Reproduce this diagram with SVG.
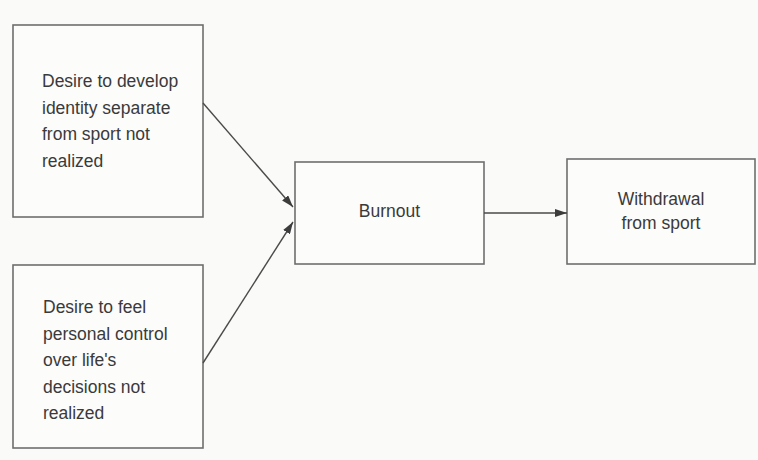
<svg xmlns="http://www.w3.org/2000/svg" width="758" height="460" viewBox="0 0 758 460">
  <style>
    .box { fill: #fcfcfb; stroke: #6e6e6e; stroke-width: 1.6; }
    .lbl { font-family: "Liberation Sans", Arial, sans-serif; font-size: 17.5px; fill: #3a3a3a; }
    .mid { text-anchor: middle; }
    .edge { stroke: #4a4a4a; stroke-width: 1.4; fill: none; marker-end: url(#head); }
  </style>
  <defs>
    <marker id="head" viewBox="0 0 12 8" refX="12" refY="4" markerWidth="12" markerHeight="8" markerUnits="userSpaceOnUse" orient="auto">
      <path d="M0,0 L12,4 L0,8 Z" fill="#3c3c3c"/>
    </marker>
  </defs>

  <rect x="0" y="0" width="758" height="460" fill="#fafaf8"/>

  <g id="identity">
    <rect class="box" x="13" y="25" width="190" height="192"/>
    <text class="lbl" x="42">
      <tspan x="42" y="87">Desire to develop</tspan>
      <tspan x="42" y="113.5">identity separate</tspan>
      <tspan x="42" y="140">from sport not</tspan>
      <tspan x="42" y="166.5">realized</tspan>
    </text>
  </g>

  <g id="control">
    <rect class="box" x="13" y="265" width="190" height="183"/>
    <text class="lbl" x="43">
      <tspan x="43" y="313">Desire to feel</tspan>
      <tspan x="43" y="339.5">personal control</tspan>
      <tspan x="43" y="366">over life's</tspan>
      <tspan x="43" y="392.5">decisions not</tspan>
      <tspan x="43" y="419">realized</tspan>
    </text>
  </g>

  <g id="burnout">
    <rect class="box" x="295" y="162" width="189" height="102"/>
    <text class="lbl mid" x="389.5" y="217">Burnout</text>
  </g>

  <g id="withdrawal">
    <rect class="box" x="567" y="159" width="188" height="105"/>
    <text class="lbl mid" x="661" y="205">Withdrawal</text>
    <text class="lbl mid" x="661" y="229">from sport</text>
  </g>

  <g id="connectors">
    <line class="edge" x1="203" y1="103" x2="293" y2="207"/>
    <line class="edge" x1="203" y1="363" x2="293" y2="222"/>
    <line class="edge" x1="484" y1="213" x2="567" y2="213"/>
  </g>
</svg>
